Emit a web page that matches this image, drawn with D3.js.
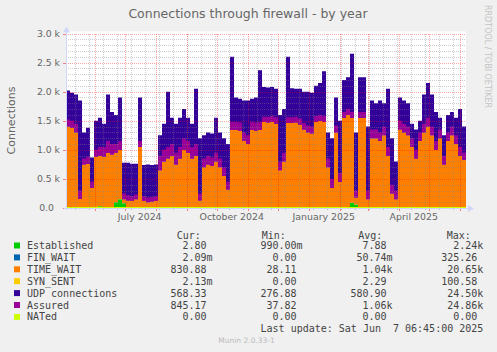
<!DOCTYPE html>
<html>
<head>
<meta charset="utf-8">
<script src="https://cdn.jsdelivr.net/npm/d3@7"></script>
<style>
  body { margin: 0; background: #f0f0f0; }
  text { white-space: pre; }
</style>
</head>
<body>
<svg id="chart" width="497" height="352"></svg>
<script>
// munin fw_conntrack, year view (400 days, one sample every 4 days)
var start = Date.UTC(2024, 4, 3, 6, 45);
var end = Date.UTC(2025, 5, 7, 6, 45);
var binDays = 4;

var established = [
  0, 0, 0, 0, 0, 0, 0, 20, 30, 5,
  0, 0, 100, 150, 80, 5, 0, 0, 0, 0,
  0, 0, 0, 0, 0, 0, 0, 0, 0, 0,
  0, 0, 0, 0, 0, 0, 0, 0, 0, 0,
  0, 0, 0, 0, 0, 0, 0, 0, 0, 0,
  0, 0, 0, 0, 0, 0, 0, 0, 0, 0,
  0, 0, 0, 0, 0, 0, 0, 0, 0, 0,
  0, 90, 60, 0, 0, 0, 0, 0, 0, 0,
  0, 0, 0, 0, 0, 0, 0, 0, 0, 0,
  0, 0, 0, 0, 0, 0, 0, 0, 0, 0
];
var timeWait = [
  1400, 1380, 1300, 160, 750, 760, 350, 860, 870, 875,
  950, 920, 850, 850, 70, 125, 120, 150, 1050, 120,
  100, 110, 120, 650, 800, 850, 900, 750, 850, 1000,
  950, 850, 900, 130, 700, 750, 720, 800, 700, 550,
  320, 1340, 1340, 1330, 1150, 1100, 1340, 1330, 1340, 1480,
  1470, 1480, 1450, 650, 800, 1460, 1460, 1470, 1430, 1350,
  1300, 1280, 1480, 1500, 1480, 700, 350, 1300, 450, 1550,
  1600, 1460, 120, 1550, 1550, 150, 1200, 1200, 1150, 1250,
  900, 250, 150, 1350, 1300, 1250, 1050, 850, 1150, 1300,
  1400, 1250, 1000, 1200, 750, 1150, 1250, 1100, 900, 830
];
var udp = [
  620, 600, 650, 1690, 550, 620, 520, 620, 650, 570,
  1000, 730, 650, 900, 630, 650, 640, 610, 850, 620,
  650, 630, 630, 600, 650, 1150, 650, 700, 700, 700,
  600, 600, 1150, 1070, 550, 550, 560, 750, 600, 650,
  780, 1260, 560, 550, 700, 750, 540, 570, 1030, 600,
  600, 600, 600, 950, 900, 1140, 600, 580, 620, 650,
  700, 700, 620, 650, 870, 600, 850, 600, 1050, 650,
  650, 1100, 1120, 700, 700, 1250, 650, 600, 700, 550,
  1150, 950, 650, 550, 550, 550, 400, 500, 350, 650,
  750, 700, 650, 350, 500, 450, 400, 450, 800, 570
];
var assured = [
  1520, 1500, 1450, 300, 850, 880, 450, 1000, 1050, 1050,
  1150, 1100, 1100, 1150, 250, 220, 200, 230, 1150, 200,
  180, 190, 200, 900, 1000, 1050, 1100, 950, 1050, 1200,
  1150, 1050, 1100, 250, 850, 900, 870, 950, 850, 700,
  450, 1480, 1480, 1470, 1300, 1250, 1480, 1470, 1480, 1570,
  1570, 1580, 1560, 800, 950, 1560, 1560, 1570, 1540, 1460,
  1420, 1400, 1580, 1600, 1580, 850, 500, 1420, 600, 1650,
  1700, 1650, 300, 1650, 1650, 300, 1350, 1350, 1300, 1400,
  1050, 400, 300, 1500, 1450, 1400, 1200, 1000, 1300, 1450,
  1550, 1400, 1150, 1350, 900, 1300, 1400, 1250, 1050, 950
];

var yTickValues = [0, 500, 1000, 1500, 2000, 2500, 3000];
var yTickLabels = ['0.0', '0.5 k', '1.0 k', '1.5 k', '2.0 k', '2.5 k', '3.0 k'];

var legendNames = ['Established', 'FIN_WAIT', 'TIME_WAIT', 'SYN_SENT', 'UDP connections', 'Assured', 'NATed'];
var legendColors = ['#00cc00', '#0066b3', '#ff8000', '#ffcc00', '#330099', '#990099', '#ccff00'];
var curValues = ['2.80', '2.09m', '830.88', '2.13m', '568.33', '845.17', '0.00'];
var minValues = ['990.00m', '0.00', '28.11', '0.00', '276.88', '37.82', '0.00'];
var avgValues = ['7.88', '50.74m', '1.04k', '2.29', '580.90', '1.06k', '0.00'];
var maxValues = ['2.24k', '325.26', '20.65k', '100.58', '24.50k', '24.86k', '0.00'];

var W = 497, H = 352;
var plotLeft = 66, plotRight = 466, plotTop = 33.5, plotBottom = 208;
var fontColor = '#666';

var svg = d3.select('#chart');

var x = d3.scaleUtc().domain([new Date(start), new Date(end)]).range([plotLeft, plotRight]);
var y = d3.scaleLinear().domain([0, 3000]).range([plotBottom, plotTop]);

var rows = timeWait.map((v, i) => ({
  date: d3.utcDay.offset(new Date(start), i * binDays),
  established: established[i], timeWait: v, udp: udp[i], assured: assured[i]
}));
// closing row so the last step reaches the right edge
rows.push(Object.assign({}, rows[rows.length - 1], {date: new Date(end)}));

svg.append('rect').attr('width', W).attr('height', H).attr('fill', '#f0f0f0');
svg.append('rect')
  .attr('x', plotLeft).attr('y', plotTop - 2)
  .attr('width', plotRight - plotLeft).attr('height', plotBottom - plotTop + 2)
  .attr('fill', '#fff');

// stacked areas
var colorOf = {established: '#00cc00', timeWait: '#ff8000', udp: '#330099'};
var series = d3.stack().keys(['established', 'timeWait', 'udp'])(rows);

var area = d3.area()
  .curve(d3.curveStepAfter)
  .x(d => x(d.data.date))
  .y0(d => y(d[0]))
  .y1(d => y(d[1]));

svg.append('g').selectAll('path')
  .data(series)
  .enter().append('path')
    .attr('fill', d => colorOf[d.key])
    .attr('d', area);

// assured, drawn as a band above the TIME_WAIT top
svg.append('path')
  .datum(rows)
  .attr('fill', '#990099')
  .attr('d', d3.area()
    .curve(d3.curveStepAfter)
    .x(d => x(d.date))
    .y0(d => y(d.established + d.timeWait))
    .y1(d => y(Math.max(d.assured, d.established + d.timeWait))));

// NATed sits at zero all year
svg.append('line')
  .attr('x1', plotLeft).attr('x2', plotRight)
  .attr('y1', y(0) - 0.5).attr('y2', y(0) - 0.5)
  .attr('stroke', '#ccff00');

// grid on top of the data, like rrdtool
var minorColor = 'rgba(130,130,130,0.4)';
var majorColor = 'rgba(255,0,0,0.35)';
var grid = svg.append('g').attr('shape-rendering', 'crispEdges').attr('stroke-dasharray', '1,1');

var monthLines = d3.utcMonth.range(new Date(start), new Date(end));
var sundays = d3.utcSunday.range(new Date(start), new Date(end)).filter((d, i) => i % 2 === 1);

grid.selectAll('.hminor')
  .data(y.ticks(30).filter(v => v % 500 !== 0))
  .enter().append('line')
    .attr('x1', plotLeft).attr('x2', plotRight)
    .attr('y1', d => Math.round(y(d)) + 0.5).attr('y2', d => Math.round(y(d)) + 0.5)
    .attr('stroke', minorColor);

grid.selectAll('.vminor')
  .data(sundays)
  .enter().append('line')
    .attr('x1', d => Math.round(x(d)) + 0.5).attr('x2', d => Math.round(x(d)) + 0.5)
    .attr('y1', plotTop).attr('y2', plotBottom)
    .attr('stroke', minorColor);

grid.selectAll('.hmajor')
  .data(yTickValues.slice(1))
  .enter().append('line')
    .attr('x1', plotLeft).attr('x2', plotRight)
    .attr('y1', d => Math.round(y(d)) + 0.5).attr('y2', d => Math.round(y(d)) + 0.5)
    .attr('stroke', majorColor);

grid.selectAll('.vmajor')
  .data(monthLines)
  .enter().append('line')
    .attr('x1', d => Math.round(x(d)) + 0.5).attr('x2', d => Math.round(x(d)) + 0.5)
    .attr('y1', plotTop).attr('y2', plotBottom)
    .attr('stroke', majorColor);

// small ticks outside the plot
var ticks = svg.append('g').attr('shape-rendering', 'crispEdges');
ticks.selectAll('.tx')
  .data(sundays)
  .enter().append('line')
    .attr('x1', d => Math.round(x(d)) + 0.5).attr('x2', d => Math.round(x(d)) + 0.5)
    .attr('y1', plotBottom).attr('y2', plotBottom + 2)
    .attr('stroke', '#bbb');
ticks.selectAll('.txm')
  .data(monthLines)
  .enter().append('line')
    .attr('x1', d => Math.round(x(d)) + 0.5).attr('x2', d => Math.round(x(d)) + 0.5)
    .attr('y1', plotBottom).attr('y2', plotBottom + 3)
    .attr('stroke', '#f08080');
ticks.selectAll('.ty')
  .data(yTickValues)
  .enter().append('line')
    .attr('x1', plotLeft - 3).attr('x2', plotLeft)
    .attr('y1', d => Math.round(y(d)) + 0.5).attr('y2', d => Math.round(y(d)) + 0.5)
    .attr('stroke', '#f08080');

// axes + arrows
var axisColor = '#cfd6f8';
svg.append('line')
  .attr('x1', plotLeft + 0.5).attr('x2', plotLeft + 0.5)
  .attr('y1', 30).attr('y2', plotBottom + 2)
  .attr('stroke', axisColor);
svg.append('line')
  .attr('x1', plotLeft - 2).attr('x2', plotRight + 4)
  .attr('y1', plotBottom + 0.5).attr('y2', plotBottom + 0.5)
  .attr('stroke', axisColor);
svg.append('path')
  .attr('d', `M${plotRight + 2},${plotBottom - 3}L${plotRight + 8},${plotBottom + 0.5}L${plotRight + 2},${plotBottom + 4}Z`)
  .attr('fill', axisColor);
svg.append('path')
  .attr('d', `M${plotLeft - 3},${plotTop - 1}L${plotLeft + 0.5},${plotTop - 7}L${plotLeft + 4},${plotTop - 1}Z`)
  .attr('fill', axisColor);

// y labels
svg.append('g').selectAll('text')
  .data(yTickValues)
  .enter().append('text')
    .attr('x', (d, i) => yTickLabels[i].indexOf('k') < 0 ? 54 : 60)
    .attr('y', d => y(d) + 3.4)
    .attr('text-anchor', 'end')
    .attr('font-family', 'DejaVu Sans')
    .attr('font-size', 9.3)
    .attr('fill', fontColor)
    .text((d, i) => yTickLabels[i]);

// x labels, centred on the middle of the month
svg.append('g').selectAll('text')
  .data(d3.utcMonth.every(3).range(new Date(start), new Date(end)))
  .enter().append('text')
    .attr('x', d => x(d3.utcDay.offset(d, 15)))
    .attr('y', 220.3)
    .attr('text-anchor', 'middle')
    .attr('font-family', 'DejaVu Sans')
    .attr('font-size', 9.4)
    .attr('fill', fontColor)
    .text(d3.utcFormat('%B %Y'));

// titles
svg.append('text')
  .attr('x', 248).attr('y', 18.3)
  .attr('text-anchor', 'middle')
  .attr('font-family', 'DejaVu Sans')
  .attr('font-size', 12.5)
  .attr('fill', fontColor)
  .text('Connections through firewall - by year');

svg.append('text')
  .attr('transform', 'translate(15,120.5) rotate(-90)')
  .attr('text-anchor', 'middle')
  .attr('font-family', 'DejaVu Sans')
  .attr('font-size', 11)
  .attr('fill', fontColor)
  .text('Connections');

svg.append('text')
  .attr('transform', 'translate(485,56.5) rotate(90)')
  .attr('text-anchor', 'middle')
  .attr('font-family', 'DejaVu Sans')
  .attr('font-size', 8)
  .attr('fill', '#c4c4c4')
  .text('RRDTOOL / TOBI OETIKER');

// legend
var cw = 6.02;
var rowY = i => 249 + i * 11.9;
var legend = svg.append('g')
  .attr('font-family', 'DejaVu Sans Mono')
  .attr('font-size', 10)
  .attr('fill', '#444');

[['Cur:', 176.7], ['Min:', 261.7], ['Avg:', 358.3], ['Max:', 446.7]].forEach(h => {
  legend.append('text').attr('x', h[1]).attr('y', 238.5).text(h[0]);
});

legendNames.forEach((name, i) => {
  legend.append('rect')
    .attr('x', 14).attr('y', rowY(i) - 6.5)
    .attr('width', 6).attr('height', 6)
    .attr('fill', legendColors[i]);
  legend.append('text').attr('x', 27).attr('y', rowY(i)).text(name);
});

var columns = [[curValues, 206.6], [minValues, 296.6], [avgValues, 386.6], [maxValues, 477.3]];
columns.forEach(col => {
  col[0].forEach((v, i) => {
    var hasUnit = /[a-z]$/.test(v);
    legend.append('text')
      .attr('x', col[1] + (hasUnit ? cw : 0))
      .attr('y', rowY(i))
      .attr('text-anchor', 'end')
      .text(v);
  });
});

legend.append('text')
  .attr('x', 483.3).attr('y', rowY(7))
  .attr('text-anchor', 'end')
  .text('Last update: Sat Jun  7 06:45:00 2025');

svg.append('text')
  .attr('x', 218.3).attr('y', 343.3)
  .attr('font-family', 'DejaVu Sans')
  .attr('font-size', 7.5)
  .attr('fill', '#bbb')
  .text('Munin 2.0.33-1');
</script>
</body>
</html>
